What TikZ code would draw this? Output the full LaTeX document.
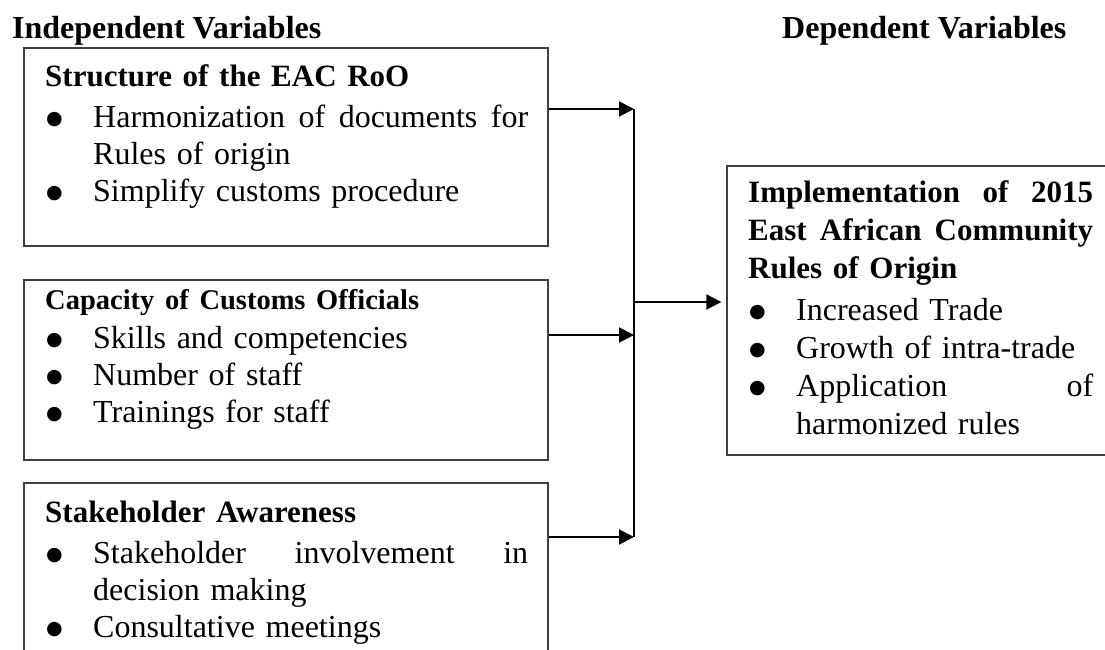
\documentclass[tikz,border=0pt]{standalone}
\usepackage{fontspec}
\setmainfont{Liberation Serif}
\newfontfamily\symfnt{DejaVu Sans}
\usetikzlibrary{arrows.meta,calc}
\newcommand{\mybul}{\makebox[48pt][l]{\hspace*{1pt}\raisebox{3pt}{\fontsize{19}{20}\symfnt ●}}}
\newcommand{\myind}{\hspace*{48pt}}
\newcommand{\spreadline}[2]{\makebox[#1][l]{#2}}
\begin{document}
\begin{tikzpicture}[x=1pt,y=-1pt,
  box/.style={draw=black!75, line width=1.3pt, inner sep=0pt},
  txt/.style={anchor=base west, inner sep=0pt, align=left, font=\fontsize{32}{37}\selectfont},
  hdr/.style={anchor=base west, inner sep=0pt, font=\fontsize{32}{37}\selectfont\bfseries},
  link/.style={line width=2pt},
  arr/.style={line width=2pt, -{Triangle[length=15pt,width=15pt]}}]
\useasboundingbox (0,0) rectangle (1105,650);
\clip (0,0) rectangle (1105,650);

% headers
\node[hdr] (h1) at (12,39) {Independent Variables};
\node[hdr] (h2) at (782,39) {Dependent Variables};

% boxes
\node[box, minimum width=524pt, minimum height=198pt] (b1) at (286,147) {};
\node[box, minimum width=524pt, minimum height=180pt] (b2) at (286,370) {};
\node[box, minimum width=524pt, minimum height=200pt] (b3) at (286,583) {};
\node[box, minimum width=387pt, minimum height=289pt] (b4) at (920.5,310.5) {};

% texts
\node[txt, text width=483pt] (t1) at (45,87) {{\fontsize{31}{37}\selectfont\bfseries Structure of the EAC RoO}\\[4pt]
\mybul\spreadline{435pt}{Harmonization\hfill of\hfill documents\hfill for}\\
\myind Rules of origin\\
\mybul Simplify customs procedure};

\node[txt, text width=483pt] (t2) at (45,309) {{\fontsize{28.5}{37}\selectfont\bfseries Capacity of Customs Officials}\\[2pt]
\mybul Skills and competencies\\
\mybul Number of staff\\
\mybul Trainings for staff};

\node[txt, text width=483pt] (t3) at (45,522) {{\fontsize{31}{37}\selectfont\bfseries Stakeholder Awareness}\\[4pt]
\mybul\spreadline{435pt}{Stakeholder\hfill involvement\hfill in}\\
\myind decision making\\
\mybul Consultative meetings};

\node[txt, text width=347pt, font=\fontsize{32}{38}\selectfont] (t4) at (748,202) {{\fontsize{31}{38}\selectfont\bfseries\spreadline{345pt}{Implementation\hfill of\hfill 2015}}\\
{\fontsize{31}{38}\selectfont\bfseries\spreadline{345pt}{East\hfill African\hfill Community}}\\
{\fontsize{31}{38}\selectfont\bfseries Rules of Origin}\\[4pt]
\mybul Increased Trade\\
\mybul Growth of intra-trade\\
\mybul\spreadline{297pt}{Application\hfill of}\\
\myind harmonized rules};

% connectors
\coordinate (j1) at (634,109);
\coordinate (j2) at (634,335);
\coordinate (j3) at (634,537);
\coordinate (jm) at (634,302);
\draw[link] (j1) -- (j3);
\draw[arr] (j1 -| b1.east) -- (j1);
\draw[arr] (j2 -| b2.east) -- (j2);
\draw[arr] (j3 -| b3.east) -- (j3);
\draw[arr, shorten >=5pt] (jm) -- (jm -| b4.west);
\end{tikzpicture}
\end{document}
